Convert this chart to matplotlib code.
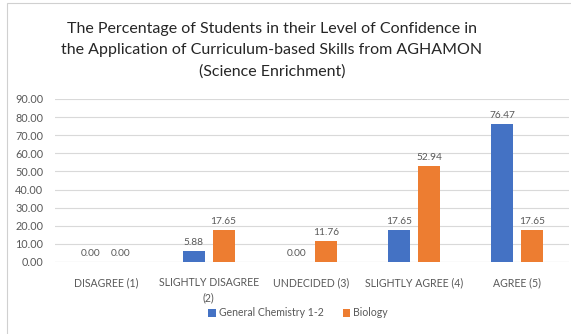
import matplotlib
matplotlib.use("Agg")
import matplotlib.pyplot as plt
import numpy as np
from matplotlib.patches import Rectangle

categories = ["DISAGREE (1)", "SLIGHTLY DISAGREE\n(2)", "UNDECIDED (3)",
              "SLIGHTLY AGREE (4)", "AGREE (5)"]
chemistry = [0.00, 5.88, 0.00, 17.65, 76.47]
biology = [0.00, 17.65, 11.76, 52.94, 17.65]
series_names = ["General Chemistry 1-2", "Biology"]
yticks = [0, 10, 20, 30, 40, 50, 60, 70, 80, 90]

plt.rcParams['font.family'] = ['Lato', 'DejaVu Sans']
text_gray = "#595959"
blue = "#4472C4"
orange = "#ED7D31"

fig = plt.figure(figsize=(5.71, 3.34), dpi=100)
fig.patch.set_facecolor("white")
fig.patches.append(Rectangle((7 / 571, -0.01), 1.02, 1.0 - 3 / 334 + 0.01,
                             transform=fig.transFigure, fill=False,
                             edgecolor="#D0D0D0", linewidth=0.8))

ax = fig.add_axes([54.5 / 571, (334 - 262) / 334, 514 / 571, 163 / 334])
x = np.arange(len(categories))
w = 0.215
off = 0.145
b1 = ax.bar(x - off, chemistry, w, color=blue, label=series_names[0], zorder=3)
b2 = ax.bar(x + off, biology, w, color=orange, label=series_names[1], zorder=3)
for bars, vals in ((b1, chemistry), (b2, biology)):
    for rect, v in zip(bars, vals):
        ax.text(rect.get_x() + rect.get_width() / 2, v + 2.2, f"{v:.2f}",
                ha="center", va="bottom", fontsize=7.3, color=text_gray)

ax.set_ylim(0, 90)
ax.set_xlim(-0.5, len(categories) - 0.5)
ax.set_yticks(yticks)
ax.set_yticklabels([f"{t:.2f}" for t in yticks], fontsize=7.8, color=text_gray)
ax.set_xticks(x)
ax.set_xticklabels(categories, fontsize=7.6, color=text_gray, linespacing=1.5)
ax.tick_params(axis="y", length=0, pad=8)
ax.tick_params(axis="x", length=0, pad=11)
ax.yaxis.grid(True, color="#D9D9D9", linewidth=0.8, zorder=0)
for s in ax.spines.values():
    s.set_visible(False)
ax.axhline(0, color="#D9D9D9", linewidth=0.8, zorder=1)

fig.text(272 / 571, 1 - 50 / 334,
         "The Percentage of Students in their Level of Confidence in\n"
         "the Application of Curriculum-based Skills from AGHAMON\n"
         "(Science Enrichment)",
         ha="center", va="center", fontsize=11.5, color="#262626",
         linespacing=1.65)

fig.legend(handles=[b1, b2], labels=series_names, loc="center",
           bbox_to_anchor=(298 / 571, 1 - 313 / 334), ncol=2, frameon=False,
           fontsize=7.6, handlelength=0.7, handleheight=0.7, handletextpad=0.3,
           columnspacing=1.8, labelcolor=text_gray)

fig.savefig("out.png", dpi=100, facecolor="white")
